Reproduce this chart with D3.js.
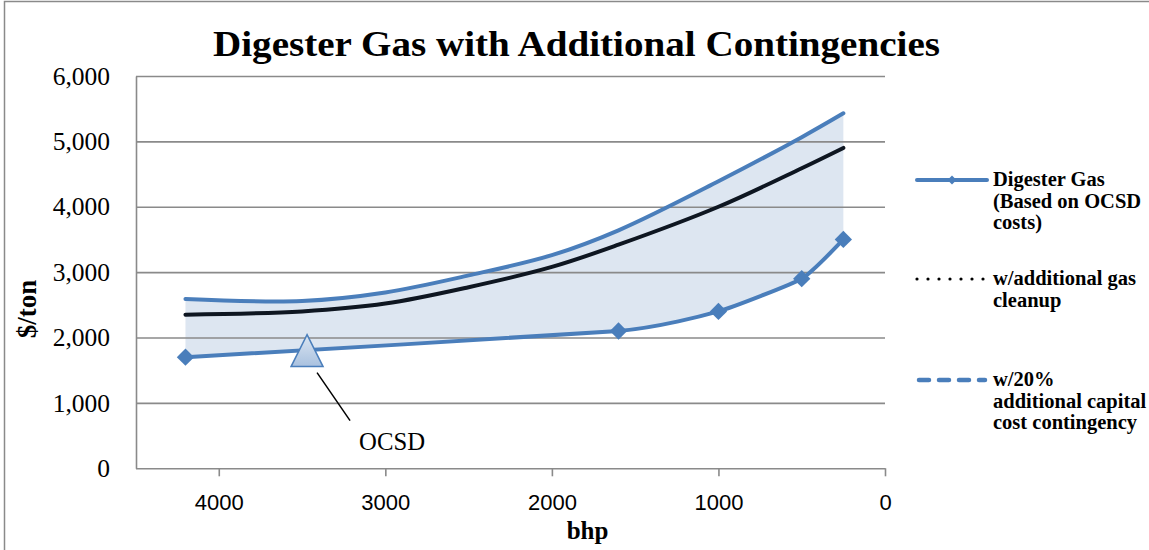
<!DOCTYPE html>
<html>
<head>
<meta charset="utf-8">
<script src="https://cdn.jsdelivr.net/npm/d3@7"></script>
<style>
  html, body { margin: 0; padding: 0; background: #ffffff; }
  svg { display: block; }
</style>
</head>
<body>
<script>
// ---- data ----
const bhpTicks = [4000, 3000, 2000, 1000, 0];
const costTicks = [0, 1000, 2000, 3000, 4000, 5000, 6000];

// Digester gas cost points (based on OCSD costs)
const digesterBhp = [4200, 1600, 1000, 500, 250];
const digesterCost = [1700, 2100, 2400, 2900, 3500];

// Sampled points along the two contingency curves
const curveBhp = [4200, 3500, 3000, 2500, 2000, 1600, 1000, 500, 250];
const cleanupCost = [2350, 2400, 2520, 2770, 3080, 3420, 4000, 4590, 4900];
const contingencyCost = [2590, 2560, 2690, 2950, 3260, 3640, 4390, 5065, 5430];

// OCSD reference plant
const ocsdBhp = [3470];
const ocsdCost = [1800];
const ocsdLabel = ["OCSD"];

const legendLabels = [
  ["Digester Gas", "(Based on OCSD", "costs)"],
  ["w/additional gas", "cleanup"],
  ["w/20%", "additional capital", "cost contingency"]
];

// ---- layout ----
const W = 1149, H = 550;
const plot = { left: 136, right: 885, top: 76, bottom: 468.3 };
const blue = "#4a7ebb";
const grid = "#8a8a8a";
const serif = "'Liberation Serif', 'Times New Roman', serif";
const sans = "'Liberation Sans', Arial, sans-serif";

const svg = d3.select("body").append("svg")
  .attr("width", W).attr("height", H);

svg.append("rect").attr("width", W).attr("height", H).attr("fill", "#fff");

// chart frame (left and top edges)
svg.append("path")
  .attr("d", `M4.5,${H} V1.5 H${W}`)
  .attr("fill", "none").attr("stroke", grid).attr("stroke-width", 1.5);

const x = d3.scaleLinear().domain([4500, 0]).range([135.5, plot.right]);
const y = d3.scaleLinear().domain([0, 6000]).range([plot.bottom, plot.top]);

const zip = (bs, vs) => bs.map((b, i) => ({ b, v: vs[i] }));
const digester = zip(digesterBhp, digesterCost);
const cleanup = zip(curveBhp, cleanupCost);
const contingency = zip(curveBhp, contingencyCost);

const line = d3.line()
  .x(d => x(d.b)).y(d => y(d.v))
  .curve(d3.curveCatmullRom.alpha(0.5));
// the measured cost points use a gentler smoothing
const pointLine = d3.line()
  .x(d => x(d.b)).y(d => y(d.v))
  .curve(d3.curveCardinal.tension(0.55));

// shaded band between the contingency curve and the base digester curve
const band = line(contingency) +
  pointLine(digester.slice().reverse()).replace(/^M/, "L") + "Z";
svg.append("path").attr("d", band).attr("fill", "#dde6f1");

// horizontal gridlines
const gridAxis = d3.axisLeft(y).tickValues(costTicks.filter(t => t > 0))
  .tickSize(-(plot.right - plot.left)).tickFormat("");
svg.append("g").attr("transform", `translate(${plot.left},0)`)
  .call(gridAxis)
  .call(g => g.select(".domain").remove())
  .call(g => g.selectAll("line").attr("stroke", grid).attr("stroke-width", 1.6));

// y axis
const yAxis = d3.axisLeft(y).tickValues(costTicks).tickSize(0).tickPadding(26)
  .tickFormat(d3.format(","));
svg.append("g").attr("transform", `translate(${plot.left},0)`)
  .call(yAxis)
  .call(g => g.select(".domain").attr("stroke", grid).attr("stroke-width", 1.6))
  .call(g => g.selectAll("text")
    .attr("font-family", serif).attr("font-size", 25.5).attr("fill", "#000"));

// x axis
const xAxis = d3.axisBottom(x).tickValues(bhpTicks).tickSize(8).tickSizeOuter(0)
  .tickPadding(18).tickFormat(d3.format("d"));
svg.append("g").attr("transform", `translate(0,${plot.bottom})`)
  .call(xAxis)
  .call(g => g.select(".domain").attr("stroke", grid).attr("stroke-width", 1.6))
  .call(g => g.selectAll("line").attr("stroke", grid).attr("stroke-width", 1.6))
  .call(g => g.selectAll("text")
    .attr("font-family", sans).attr("font-size", 22).attr("fill", "#000"));

// axis titles
svg.append("text")
  .attr("x", (plot.left + plot.right) / 2 + 77).attr("y", 539)
  .attr("text-anchor", "middle")
  .attr("font-family", serif).attr("font-weight", "bold").attr("font-size", 25)
  .text("bhp");

svg.append("text")
  .attr("transform", "translate(36,309) rotate(-90)")
  .attr("text-anchor", "middle")
  .attr("font-family", serif).attr("font-weight", "bold").attr("font-size", 27)
  .text("$/ton");

// title
svg.append("text")
  .attr("x", 213).attr("y", 56)
  .attr("textLength", 727).attr("lengthAdjust", "spacingAndGlyphs")
  .attr("font-family", serif).attr("font-weight", "bold").attr("font-size", 36)
  .text("Digester Gas with Additional Contingencies");

// series lines
svg.append("path").attr("d", line(contingency))
  .attr("fill", "none").attr("stroke", blue).attr("stroke-width", 4)
  .attr("stroke-linecap", "round");
svg.append("path").attr("d", line(cleanup))
  .attr("fill", "none").attr("stroke", "#0e1621").attr("stroke-width", 4)
  .attr("stroke-linecap", "round");
svg.append("path").attr("d", pointLine(digester))
  .attr("fill", "none").attr("stroke", blue).attr("stroke-width", 4)
  .attr("stroke-linecap", "round");

// diamond markers
svg.selectAll(".pt").data(digester).join("path")
  .attr("class", "pt")
  .attr("d", d3.symbol(d3.symbolSquare, 150))
  .attr("transform", d => `translate(${x(d.b)},${y(d.v)}) rotate(45)`)
  .attr("fill", blue);

// OCSD marker, leader and label
const defs = svg.append("defs");
const grad = defs.append("linearGradient").attr("id", "triFill")
  .attr("x1", 0).attr("y1", 0).attr("x2", 0).attr("y2", 1);
grad.append("stop").attr("offset", "0%").attr("stop-color", "#dbe5f1");
grad.append("stop").attr("offset", "100%").attr("stop-color", "#a9c1df");

const triangle = {
  draw(ctx, size) {
    const r = Math.sqrt(size) / 2;
    ctx.moveTo(0, -r); ctx.lineTo(r, r); ctx.lineTo(-r, r); ctx.closePath();
  }
};
const ocsd = zip(ocsdBhp, ocsdCost);
svg.selectAll(".ocsd").data(ocsd).join("path")
  .attr("class", "ocsd")
  .attr("d", d3.symbol(triangle, 32 * 32))
  .attr("transform", d => `translate(${x(d.b)},${y(d.v)})`)
  .attr("fill", "url(#triFill)").attr("stroke", blue).attr("stroke-width", 1.5);

ocsd.forEach((d, i) => {
  const cx = x(d.b), cy = y(d.v);
  svg.append("line")
    .attr("x1", cx + 10).attr("y1", cy + 22)
    .attr("x2", cx + 43).attr("y2", cy + 70)
    .attr("stroke", "#000").attr("stroke-width", 1.5);
  svg.append("text")
    .attr("x", cx + 52).attr("y", cy + 99)
    .attr("textLength", 66).attr("lengthAdjust", "spacingAndGlyphs")
    .attr("font-family", serif).attr("font-size", 26)
    .text(ocsdLabel[i]);
});

// legend
const lg = svg.append("g");
const lx0 = 917, lx1 = 987, tx = 993;
const rows = [180, 279, 380];

lg.append("line").attr("x1", lx0).attr("x2", lx1).attr("y1", rows[0]).attr("y2", rows[0])
  .attr("stroke", blue).attr("stroke-width", 4).attr("stroke-linecap", "round");
lg.append("path").attr("d", d3.symbol(d3.symbolSquare, 40))
  .attr("transform", `translate(${(lx0 + lx1) / 2},${rows[0]}) rotate(45)`)
  .attr("fill", blue);

lg.append("line").attr("x1", lx0).attr("x2", lx1).attr("y1", rows[1]).attr("y2", rows[1])
  .attr("stroke", "#000").attr("stroke-width", 3.2).attr("stroke-linecap", "round")
  .attr("stroke-dasharray", "0,11");

lg.append("line").attr("x1", lx0 + 2).attr("x2", lx1 - 2).attr("y1", rows[2]).attr("y2", rows[2])
  .attr("stroke", blue).attr("stroke-width", 4.5).attr("stroke-linecap", "round")
  .attr("stroke-dasharray", "10,10");

legendLabels.forEach((lines, i) => {
  const t = lg.append("text")
    .attr("font-family", serif).attr("font-weight", "bold").attr("font-size", 20.5)
    .attr("fill", "#000");
  lines.forEach((s, j) => {
    t.append("tspan").attr("x", tx).attr("y", rows[i] + 6 + j * 21.5).text(s);
  });
});
</script>
</body>
</html>
